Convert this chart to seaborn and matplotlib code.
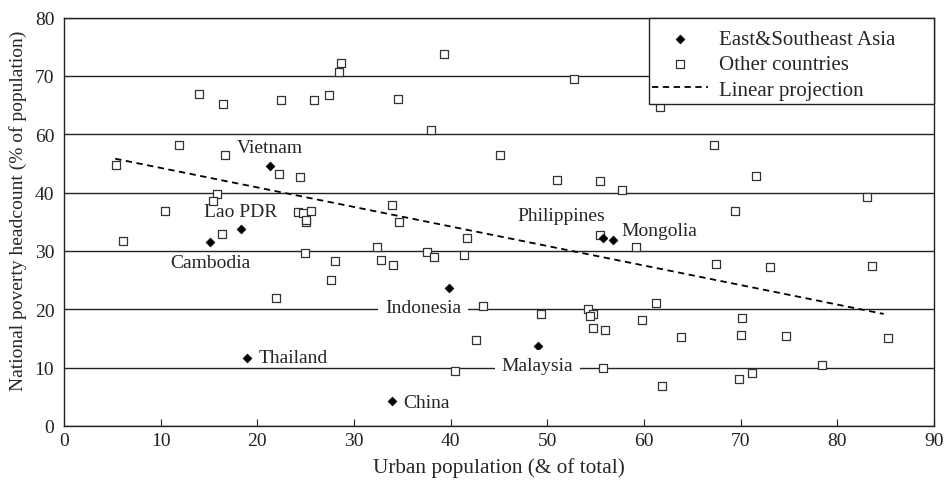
import matplotlib
matplotlib.use("Agg")
import matplotlib.pyplot as plt
from matplotlib.patches import Rectangle
import seaborn as sns

# === Data (y = position on the drawn axis)
asia_names = ["Vietnam", "Lao PDR", "Cambodia", "Thailand", "Indonesia",
              "Malaysia", "China", "Philippines", "Mongolia"]
asia_urban = [21.3, 18.3, 15.1, 18.9, 39.8, 49.0, 33.9, 55.8, 56.8]
asia_poverty = [44.5, 33.8, 31.6, 11.6, 23.7, 13.7, 4.2, 32.2, 31.8]

other_urban = [28.7, 28.4, 14.0, 16.4, 22.4, 25.9, 27.4, 11.9, 16.7, 5.4,
               22.2, 24.4, 15.8, 15.4, 10.5, 24.2, 24.7, 25.6, 25.0, 25.0,
               6.1, 16.3, 24.9, 28.0, 27.6, 21.9, 33.9, 34.7, 41.7, 32.4,
               32.8, 34.0, 37.6, 38.3, 41.4, 43.3, 49.3, 54.2, 54.7, 54.4,
               54.7, 56.0, 42.6, 40.4, 55.8, 55.5, 59.2, 59.8, 34.6, 39.3,
               38.0, 45.1, 51.0, 55.4, 57.7, 52.8, 61.7, 67.2, 71.6, 83.1,
               69.4, 67.4, 73.0, 83.6, 61.2, 70.1, 63.8, 70.0, 74.7, 85.2,
               78.4, 61.9, 69.8, 71.2]
other_poverty = [62.2, 60.6, 56.9, 55.1, 55.9, 55.9, 56.8, 48.1, 46.4, 44.8,
                 43.1, 42.6, 39.7, 38.6, 36.8, 36.7, 36.5, 36.8, 35.0, 35.3,
                 31.7, 32.9, 29.6, 28.3, 25.1, 22.0, 37.8, 35.0, 32.3, 30.6,
                 28.5, 27.6, 29.9, 28.9, 29.3, 20.5, 19.2, 20.0, 19.2, 18.9,
                 16.8, 16.5, 14.8, 9.5, 9.9, 32.7, 30.7, 18.2, 56.0, 63.7,
                 50.7, 46.4, 42.2, 41.9, 40.5, 59.5, 54.7, 48.1, 42.8, 39.2,
                 36.8, 27.8, 27.2, 27.4, 21.0, 18.5, 15.2, 15.6, 15.4, 15.1,
                 10.4, 6.8, 8.0, 9.1]

proj_urban = [5.3, 84.8]
proj_poverty = [45.8, 19.2]

ytick_labels = ["0", "10", "20", "30", "40", "60", "70", "80"]

# === Label placement (offset in points from the marker)
label_style = {
    "Vietnam": ((0, 13.5), "center", False),
    "Lao PDR": ((0, 12.5), "center", False),
    "Cambodia": ((0, -15), "center", False),
    "Thailand": ((9, 0.5), "left", False),
    "Indonesia": ((-18.5, -14.5), "center", True),
    "Malaysia": ((0, -14.2), "center", True),
    "China": ((8.5, -1), "left", False),
    "Philippines": ((-30, 16), "center", False),
    "Mongolia": ((6, 7.4), "left", False),
}

sns.set_style("ticks")
plt.rcParams["font.family"] = ["Liberation Serif", "DejaVu Serif"]

fig, ax = plt.subplots(figsize=(9.48, 4.81), dpi=100)
fig.subplots_adjust(left=0.0675, right=0.9852, top=0.9615, bottom=0.1123)

sns.scatterplot(x=asia_urban, y=asia_poverty, marker="D", s=20, color="black",
                edgecolor="black", linewidth=0.5, label="East&Southeast Asia",
                ax=ax, zorder=4)
sns.scatterplot(x=other_urban, y=other_poverty, marker="s", s=27, color="white",
                edgecolor="#333333", linewidth=0.9, label="Other countries",
                ax=ax, zorder=3)
sns.lineplot(x=proj_urban, y=proj_poverty, color="black", linewidth=1.3,
             linestyle=(0, (3.5, 2.5)), label="Linear projection", ax=ax, zorder=2)

for name, x, y in zip(asia_names, asia_urban, asia_poverty):
    off, ha, boxed = label_style[name]
    bbox = dict(boxstyle="square,pad=0.35", fc="white", ec="none") if boxed else None
    ax.annotate(name, (x, y), xytext=off, textcoords="offset points",
                ha=ha, va="center", fontsize=14, bbox=bbox, zorder=5)

ax.set_xlim(0, 90)
ax.set_ylim(0, 70)
ax.set_xticks(range(0, 91, 10))
ax.set_yticks(range(0, 71, 10))
ax.set_yticklabels(ytick_labels)
ax.tick_params(axis="both", direction="in", labelsize=14, colors="#222222")
ax.tick_params(axis="x", length=5, pad=4)
ax.tick_params(axis="y", length=0, pad=7)
ax.yaxis.grid(True, color="#222222", linewidth=1)
ax.set_axisbelow(True)
for side in ax.spines.values():
    side.set_color("#222222")
    side.set_linewidth(1)

ax.set_xlabel("Urban population (& of total)", fontsize=15.3, labelpad=6)
ax.set_ylabel("National poverty headcount (% of population)", fontsize=14)
ax.yaxis.set_label_coords(-0.0425, 0.53)

# legend box drawn by hand so it can be wider than its content
ax.add_patch(Rectangle((0.6724, 0.788), 0.3276, 0.212, transform=ax.transAxes,
                       fc="white", ec="#222222", lw=1, zorder=9, clip_on=False))
leg = ax.legend(loc="upper left", bbox_to_anchor=(0.6759, 0.9705),
                borderaxespad=0, borderpad=0, fontsize=15, frameon=False,
                handlelength=2.7, handletextpad=0.5, labelspacing=0.27)
leg.set_zorder(10)

plt.savefig("out.png", dpi=100)
